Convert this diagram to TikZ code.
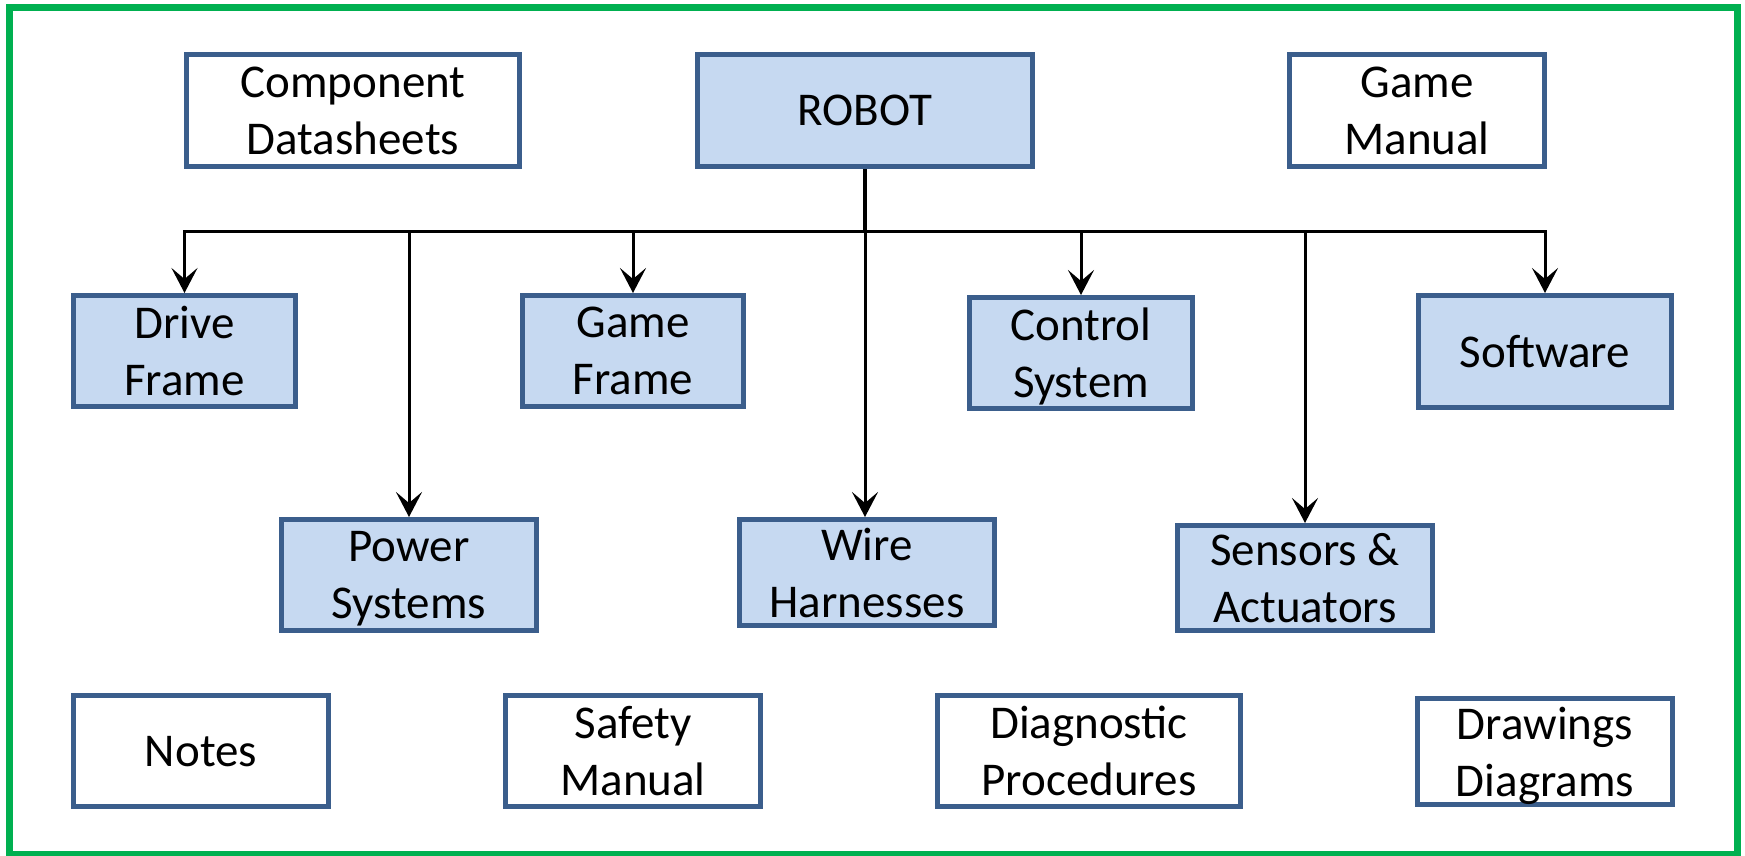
\documentclass[tikz,border=0pt]{standalone}
\usepackage{fontspec}
\setmainfont{Carlito}
\usetikzlibrary{arrows.meta}
\definecolor{boxline}{HTML}{3B5E8C}
\definecolor{boxfill}{HTML}{C6D9F1}
\definecolor{framegreen}{HTML}{00B050}
\begin{document}
\begin{tikzpicture}[x=1pt,y=-1pt,
  basebox/.style={draw=boxline, line width=5pt, inner sep=0pt, align=center,
    font=\fontsize{47}{57}\selectfont, text depth=0pt},
  childbox/.style={basebox, fill=boxfill},
  docbox/.style={basebox, fill=white},
  conn/.style={line width=3pt, -{Stealth[length=25pt, width=26pt, inset=11pt]}},
  stem/.style={line width=4.5pt}]
\useasboundingbox (0,0) rectangle (1745,855);
\fill[white] (0,0) rectangle (1745,855);
\draw[framegreen, line width=7pt] (9.2,7.5) rectangle (1737,854);

% top row
\node[docbox, minimum width=333pt, minimum height=112pt] (comp) at (353,110.5) {Component\\Datasheets};
\node[childbox, minimum width=335pt, minimum height=112pt] (robot) at (865,110.5) {ROBOT};
\node[docbox, minimum width=255pt, minimum height=112pt] (gman) at (1417,110.5) {Game\\Manual};

% second row
\node[childbox, minimum width=222pt, minimum height=111pt] (drive) at (184.5,351) {Drive\\Frame};
\node[childbox, minimum width=221pt, minimum height=111pt] (gframe) at (633,351) {Game\\Frame};
\node[childbox, minimum width=223pt, minimum height=111pt] (control) at (1081,353) {Control\\System};
\node[childbox, minimum width=253pt, minimum height=112pt] (software) at (1545,351.5) {Software};

% third row
\node[childbox, minimum width=255pt, minimum height=111pt] (power) at (409,575) {Power\\Systems};
\node[childbox, minimum width=255pt, minimum height=106pt] (wire) at (867,572.5) {Wire\\Harnesses};
\node[childbox, minimum width=255pt, minimum height=105pt] (sensors) at (1305,578) {Sensors \&\\Actuators};

% bottom row
\node[docbox, minimum width=255pt, minimum height=111pt] (notes) at (201,751) {Notes};
\node[docbox, minimum width=255pt, minimum height=111pt] (safety) at (633,751) {Safety\\Manual};
\node[docbox, minimum width=303pt, minimum height=111pt] (diag) at (1089,751) {Diagnostic\\Procedures};
\node[docbox, minimum width=255pt, minimum height=106pt] (drawings) at (1545,751.5) {Drawings\\Diagrams};

% connectors
\coordinate (bus) at (865,231);
\draw[stem] (robot.south) -- (bus);
\draw[conn] (robot.south) -- (bus) -| (drive.north);
\draw[conn] (robot.south) -- (bus) -| (power.north);
\draw[conn] (robot.south) -- (bus) -| (gframe.north);
\draw[conn] (robot.south) -- (robot.south |- wire.north);
\draw[conn] (robot.south) -- (bus) -| (control.north);
\draw[conn] (robot.south) -- (bus) -| (sensors.north);
\draw[conn] (robot.south) -- (bus) -| (software.north);
\end{tikzpicture}
\end{document}
